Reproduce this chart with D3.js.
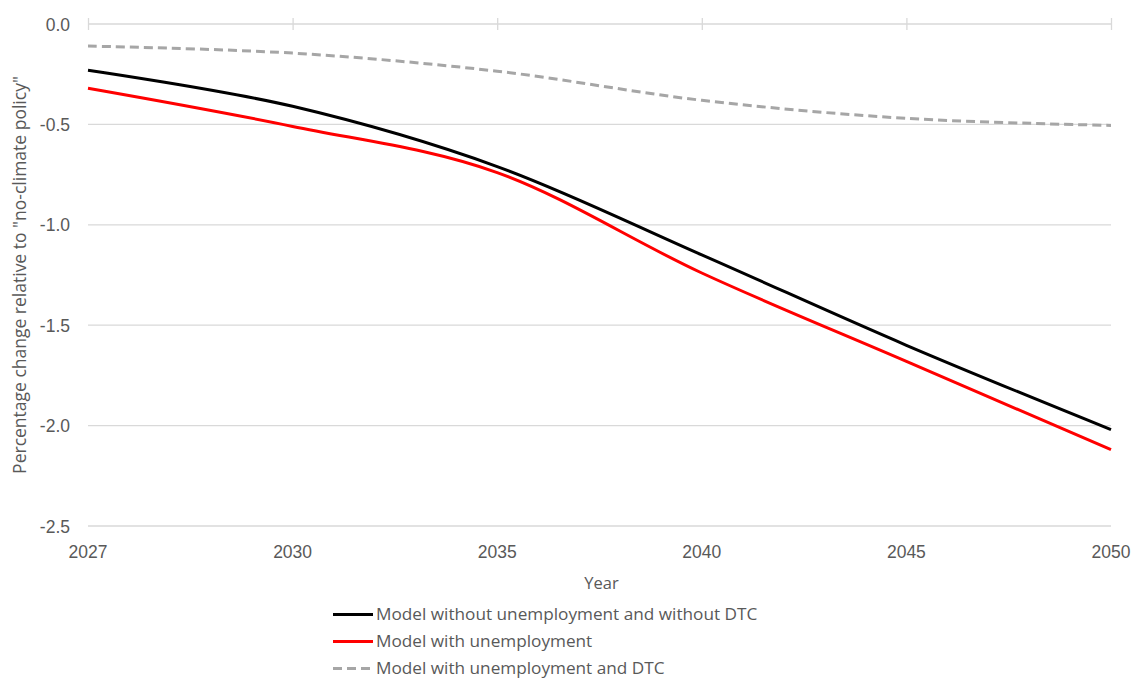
<!DOCTYPE html>
<html>
<head>
<meta charset="utf-8">
<script src="https://cdn.jsdelivr.net/npm/d3@7"></script>
<style>
  html, body { margin: 0; padding: 0; background: #fff; }
  svg { display: block; }
  text { font-family: "Liberation Sans", Arial, sans-serif; fill: #595959; }
  .wide { font-family: "Open Sans", "Liberation Sans", sans-serif; }
</style>
</head>
<body>
<svg id="chart" width="1132" height="678"></svg>
<script>
// Years on the category axis
const years = [2027, 2030, 2035, 2040, 2045, 2050];

// Percentage change relative to the "no-climate policy" baseline
const noUnempNoDTC = [-0.23, -0.41, -0.71, -1.15, -1.60, -2.02];
const withUnemp    = [-0.32, -0.51, -0.74, -1.24, -1.68, -2.12];
const withUnempDTC = [-0.11, -0.145, -0.235, -0.38, -0.47, -0.505];

const seriesNames = [
  "Model without unemployment and without DTC",
  "Model with unemployment",
  "Model with unemployment and DTC"
];

const yTicks = [0, -0.5, -1.0, -1.5, -2.0, -2.5];

const series = [
  { name: seriesNames[0], values: noUnempNoDTC, color: "#000000", dash: null },
  { name: seriesNames[1], values: withUnemp,    color: "#ff0000", dash: null },
  { name: seriesNames[2], values: withUnempDTC, color: "#a6a6a6", dash: "9,5" }
];

const svg = d3.select("#chart");
const plotLeft = 88, plotRight = 1111, plotTop = 24, plotBottom = 526;

const x = d3.scalePoint().domain(years).range([plotLeft, plotRight]);
const y = d3.scaleLinear().domain([-2.5, 0]).range([plotBottom, plotTop]);

// Horizontal gridlines
svg.append("g")
  .selectAll("line")
  .data(yTicks)
  .join("line")
  .attr("x1", plotLeft).attr("x2", plotRight)
  .attr("y1", d => y(d)).attr("y2", d => y(d))
  .attr("stroke", "#d9d9d9").attr("stroke-width", 1.3);

// Category axis sits on the zero line, with ticks crossing it
const xAxis = d3.axisTop(x).tickSize(6).tickFormat("");
const gx = svg.append("g").attr("transform", `translate(0,${y(0)})`).call(xAxis);
gx.select(".domain").remove();
gx.selectAll(".tick line")
  .attr("y1", 6).attr("y2", -6)
  .attr("stroke", "#d9d9d9").attr("stroke-width", 1.3);

// Year labels along the bottom
svg.append("g")
  .selectAll("text")
  .data(years)
  .join("text")
  .attr("x", d => x(d))
  .attr("y", 558)
  .attr("text-anchor", "middle")
  .style("font-size", "17.5px")
  .text(d => d);

// Value axis labels (plain hyphen for the minus sign)
const fmt = d => d.toFixed(1);
const yAxis = d3.axisLeft(y).tickValues(yTicks).tickSize(0).tickPadding(18)
  .tickFormat(fmt);
const gy = svg.append("g").attr("transform", `translate(${plotLeft},0)`).call(yAxis);
gy.select(".domain").remove();
gy.selectAll("text")
  .style("font-family", "'Liberation Sans', Arial, sans-serif")
  .style("font-size", "17.5px")
  .attr("fill", "#595959")
  .attr("dy", "0.35em");

// Axis titles
svg.append("text")
  .attr("class", "wide")
  .attr("x", (plotLeft + plotRight) / 2 + 2)
  .attr("y", 589)
  .attr("text-anchor", "middle")
  .style("font-size", "16.5px")
  .text("Year");

svg.append("text")
  .attr("class", "wide")
  .attr("transform", `translate(26,${(plotTop + plotBottom) / 2}) rotate(-90)`)
  .attr("text-anchor", "middle")
  .style("font-size", "17.5px")
  .text('Percentage change relative to "no-climate policy"');

// Smoothed series lines
const line = d3.line()
  .x((d, i) => x(years[i]))
  .y(d => y(d))
  .curve(d3.curveCardinal.tension(0));

svg.append("g")
  .selectAll("path")
  .data(series.slice().reverse())
  .join("path")
  .attr("d", d => line(d.values))
  .attr("fill", "none")
  .attr("stroke", d => d.color)
  .attr("stroke-width", 3)
  .attr("stroke-dasharray", d => d.dash);

// Legend
const legend = svg.append("g");
const rows = legend.selectAll("g")
  .data(series)
  .join("g")
  .attr("transform", (d, i) => `translate(333,${614.5 + i * 27})`);
rows.append("line")
  .attr("x1", 0).attr("x2", 40)
  .attr("stroke", d => d.color)
  .attr("stroke-width", 3)
  .attr("stroke-dasharray", d => d.dash);
rows.append("text")
  .attr("class", "wide")
  .attr("x", 43)
  .attr("dy", "0.33em")
  .style("font-size", "17.2px")
  .text(d => d.name);
</script>
</body>
</html>
